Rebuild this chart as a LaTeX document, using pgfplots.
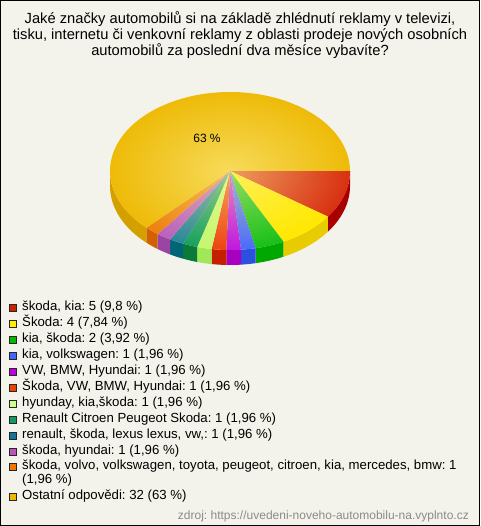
\documentclass[border=0pt]{standalone}
\usepackage{pgfplots}
\pgfplotsset{compat=1.18}
\usepackage{pgfplotstable}
\usepackage{fontspec}
\setmainfont{Liberation Sans}
\usetikzlibrary{fadings}
\tikzfading[name=glow, inner color=transparent!0, outer color=transparent!100]
\frenchspacing

\definecolor{bgc}{HTML}{F4F3EB}
\definecolor{srcc}{HTML}{8A8A8A}
\definecolor{glowc}{HTML}{FFF6A0}
% top colours
\definecolor{t1}{HTML}{D83010}
\definecolor{t2}{HTML}{FFE800}
\definecolor{t3}{HTML}{18C018}
\definecolor{t4}{HTML}{4A6CF8}
\definecolor{t5}{HTML}{C018E0}
\definecolor{t6}{HTML}{EE4410}
\definecolor{t7}{HTML}{C4F870}
\definecolor{t8}{HTML}{18A060}
\definecolor{t9}{HTML}{2A8898}
\definecolor{t10}{HTML}{BB60C0}
\definecolor{t11}{HTML}{EE8010}
\definecolor{t12}{HTML}{EEBB08}
% side colours
\definecolor{s1}{HTML}{A80000}
\definecolor{s2}{HTML}{E6CC00}
\definecolor{s3}{HTML}{00A800}
\definecolor{s4}{HTML}{2A50E0}
\definecolor{s5}{HTML}{A800C0}
\definecolor{s6}{HTML}{C42000}
\definecolor{s7}{HTML}{A0E858}
\definecolor{s8}{HTML}{0A7A3A}
\definecolor{s9}{HTML}{006677}
\definecolor{s10}{HTML}{9A44A4}
\definecolor{s11}{HTML}{D06000}
\definecolor{s12}{HTML}{D4A000}
% legend colours
\definecolor{l1}{HTML}{CC2200}
\definecolor{l2}{HTML}{FFEE00}
\definecolor{l3}{HTML}{00BB00}
\definecolor{l4}{HTML}{4466FF}
\definecolor{l5}{HTML}{BB00DD}
\definecolor{l6}{HTML}{EE4400}
\definecolor{l7}{HTML}{CCFF88}
\definecolor{l8}{HTML}{119966}
\definecolor{l9}{HTML}{117799}
\definecolor{l10}{HTML}{BB55BB}
\definecolor{l11}{HTML}{EE7700}
\definecolor{l12}{HTML}{EEB800}

\pgfplotstableread{
v
5
4
2
1
1
1
1
1
1
1
1
32
}\piedata

\newcommand\topslice[2]{%
 \edef\tmp{\noexpand\addplot[fill=#2, draw=none, domain=-\csname ea#1\endcsname:-\csname sa#1\endcsname, samples=90, variable=\noexpand\t] ({230+120*cos(\noexpand\t)},{355+79*sin(\noexpand\t)}) -- (230,355) -- cycle;}\tmp}
\newcommand\sideslice[2]{%
 \edef\tmp{\noexpand\addplot[fill=#2, draw=none, domain=-\csname me#1\endcsname:-\csname sa#1\endcsname, samples=60, variable=\noexpand\t] ({230+120*cos(\noexpand\t)},{340+79*sin(\noexpand\t)}) -- ++(0,15) arc[start angle=-\csname sa#1\endcsname, end angle=-\csname me#1\endcsname, x radius=120pt, y radius=79pt] -- cycle;}\tmp}
\newcommand\legsq[2]{\filldraw[fill=#1, draw=black!85, line width=0.7pt] (9.5,{526-#2-0.5}) rectangle (16.5,{526-#2+6.5});}
\newcommand\legtx[2]{\node[anchor=base west, inner sep=0pt, font=\fontsize{13.2}{15}\selectfont] at (22,{526-#1}) {#2};}

\begin{document}
\begin{tikzpicture}
\pgfplotstablegetrowsof{\piedata}
\pgfmathtruncatemacro\nrows{\pgfplotsretval-1}
\xdef\total{0}
\foreach \i in {0,...,\nrows}{%
  \pgfplotstablegetelem{\i}{v}\of\piedata
  \pgfmathparse{\total+\pgfplotsretval}\xdef\total{\pgfmathresult}}
\xdef\run{0}
\foreach \i in {0,...,\nrows}{%
  \pgfplotstablegetelem{\i}{v}\of\piedata
  \expandafter\xdef\csname sa\i\endcsname{\run}%
  \pgfmathparse{\run+360*\pgfplotsretval/\total}\xdef\run{\pgfmathresult}%
  \expandafter\xdef\csname ea\i\endcsname{\run}%
  \pgfmathparse{min(\run,180)}\expandafter\xdef\csname me\i\endcsname{\pgfmathresult}}
\begin{axis}[scale only axis, width=480pt, height=526pt,
  xmin=0, xmax=480, ymin=0, ymax=526, enlargelimits=false,
  axis lines=none, ticks=none, clip=false]
\fill[bgc] (0,0) rectangle (480,526);
\draw[black, line width=1pt] (0.5,0.5) rectangle (479.5,525.5);
% title
\node[anchor=base, inner sep=0pt, font=\fontsize{14.7}{16}\selectfont] at (240,502) {Jaké značky automobilů si na základě zhlédnutí reklamy v televizi,};
\node[anchor=base, inner sep=0pt, font=\fontsize{14.7}{16}\selectfont] at (240,486) {tisku, internetu či venkovní reklamy z oblasti prodeje nových osobních};
\node[anchor=base, inner sep=0pt, font=\fontsize{14.7}{16}\selectfont] at (240,470) {automobilů za poslední dva měsíce vybavíte?};
% sides
\sideslice{0}{s1}
\sideslice{1}{s2}
\sideslice{2}{s3}
\sideslice{3}{s4}
\sideslice{4}{s5}
\sideslice{5}{s6}
\sideslice{6}{s7}
\sideslice{7}{s8}
\sideslice{8}{s9}
\sideslice{9}{s10}
\sideslice{10}{s11}
\sideslice{11}{s12}
% tops
\topslice{0}{t1}
\topslice{1}{t2}
\topslice{2}{t3}
\topslice{3}{t4}
\topslice{4}{t5}
\topslice{5}{t6}
\topslice{6}{t7}
\topslice{7}{t8}
\topslice{8}{t9}
\topslice{9}{t10}
\topslice{10}{t11}
\topslice{11}{t12}
\fill[glowc, path fading=glow, fill opacity=0.55] (230,355) ellipse [x radius=120pt, y radius=79pt];
\node[font=\fontsize{12}{14}\selectfont] at (207,388) {63 \%};
% legend
\legsq{l1}{311}   \legtx{311}{škoda, kia: 5 (9,8 \%)}
\legsq{l2}{327}   \legtx{327}{Škoda: 4 (7,84 \%)}
\legsq{l3}{343}   \legtx{343}{kia, škoda: 2 (3,92 \%)}
\legsq{l4}{359}   \legtx{359}{kia, volkswagen: 1 (1,96 \%)}
\legsq{l5}{375}   \legtx{375}{VW, BMW, Hyundai: 1 (1,96 \%)}
\legsq{l6}{391}   \legtx{391}{Škoda, VW, BMW, Hyundai: 1 (1,96 \%)}
\legsq{l7}{407}   \legtx{407}{hyunday, kia,škoda: 1 (1,96 \%)}
\legsq{l8}{423}   \legtx{423}{Renault Citroen Peugeot Skoda: 1 (1,96 \%)}
\legsq{l9}{438.5} \legtx{438.5}{renault, škoda, lexus lexus, vw,: 1 (1,96 \%)}
\legsq{l10}{454.5}\legtx{454.5}{škoda, hyundai: 1 (1,96 \%)}
\legsq{l11}{470}  \legtx{470}{škoda, volvo, volkswagen, toyota, peugeot, citroen, kia, mercedes, bmw: 1}
\legtx{484}{(1,96 \%)}
\legsq{l12}{500}  \legtx{500}{Ostatní odpovědi: 32 (63 \%)}
% source
\node[anchor=base east, inner sep=0pt, text=srcc, font=\fontsize{12}{14}\selectfont] at (469,6) {zdroj: https://uvedeni-noveho-automobilu-na.vyplnto.cz};
\end{axis}
\end{tikzpicture}
\end{document}
